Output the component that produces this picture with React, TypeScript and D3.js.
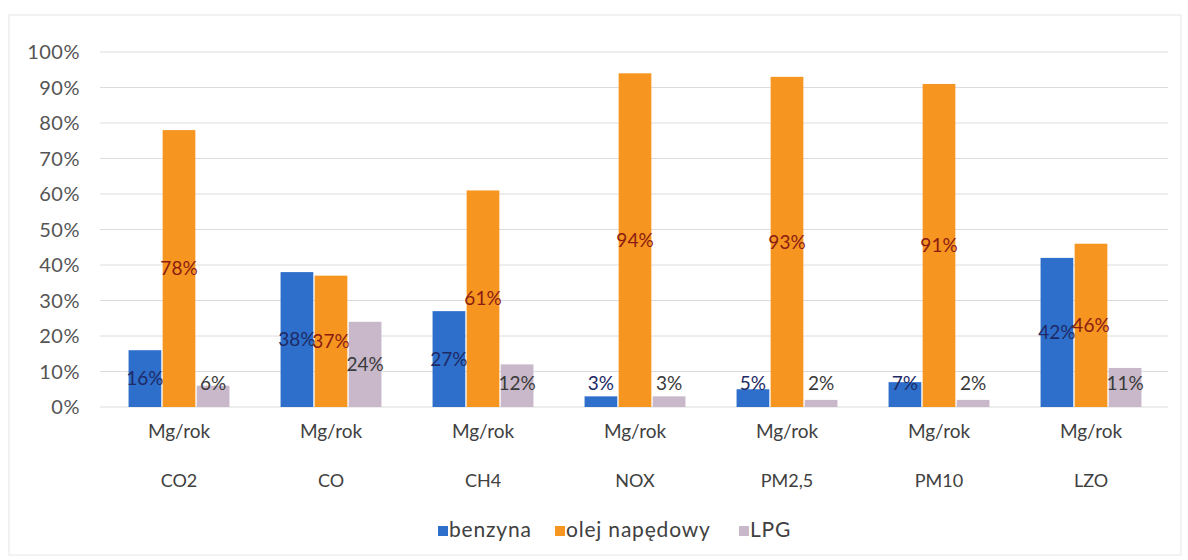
import React from "react";
import * as d3 from "d3";

const categories = ["CO2", "CO", "CH4", "NOX", "PM2,5", "PM10", "LZO"];
const unitLabel = "Mg/rok";
const seriesNames = ["benzyna", "olej napędowy", "LPG"];
const benzyna = [16, 38, 27, 3, 5, 7, 42];
const olej = [78, 37, 61, 94, 93, 91, 46];
const lpg = [6, 24, 12, 3, 2, 2, 11];
const yTicks = [0, 10, 20, 30, 40, 50, 60, 70, 80, 90, 100];

const colors = ["#2d6fcb", "#f6951f", "#c8b8c9"];
const labelColors = ["#1e2a66", "#8a1c14", "#3a3a3a"];

const W = 1188;
const H = 560;
const FONT = "Lato, 'Open Sans', sans-serif";

export default function App() {
  const series = [benzyna, olej, lpg];
  const x0 = d3.scaleBand<string>().domain(categories).range([103, 1167]).paddingInner(0).paddingOuter(0);
  const x1 = d3.scaleBand<number>().domain([0, 1, 2]).range([0, x0.bandwidth()]).paddingOuter(0.75).paddingInner(0.04);
  const y = d3.scaleLinear().domain([0, 100]).range([407, 52]);

  return (
    <svg width={W} height={H} style={{ position: "absolute", left: 0, top: 0, background: "#fff" }} fontFamily={FONT}>
      <rect x={9} y={15} width={1172} height={540} fill="none" stroke="#e6e6e6" />
      {yTicks.map((t) => (
        <g key={t}>
          <line x1={100} x2={1168} y1={y(t)} y2={y(t)} stroke="#dcdcdc" strokeWidth={1} />
          <text x={80} y={y(t)} dy="0.35em" textAnchor="end" fontSize={20} letterSpacing={0.5} fill="#555">
            {t}%
          </text>
        </g>
      ))}
      {categories.map((c, i) => (
        <g key={c} transform={`translate(${x0(c)},0)`}>
          {series.map((s, k) => {
            const bx = x1(k)!;
            const bw = x1.bandwidth();
            const top = y(s[i]);
            const base = y(0);
            const cy = Math.min((top + base) / 2, base - 24);
            return (
              <g key={k}>
                <rect x={bx} y={top} width={bw} height={base - top} fill={colors[k]} />
                <text x={bx + bw / 2} y={cy} dy="0.35em" textAnchor="middle" fontSize={19} fill={labelColors[k]}>
                  {s[i]}%
                </text>
              </g>
            );
          })}
          <text x={x0.bandwidth() / 2} y={431} dy="0.35em" textAnchor="middle" fontSize={19} fill="#404040">
            {unitLabel}
          </text>
          <text x={x0.bandwidth() / 2} y={481} dy="0.35em" textAnchor="middle" fontSize={18} fill="#404040">
            {c}
          </text>
        </g>
      ))}
      {seriesNames.map((n, k) => {
        const offsets = [438, 555, 739];
        const lx = offsets[k];
        return (
          <g key={n}>
            <rect x={lx} y={526} width={10} height={10} fill={colors[k]} />
            <text x={lx + 11} y={530} dy="0.35em" fontSize={21} letterSpacing={0.8} fill="#404040">
              {n}
            </text>
          </g>
        );
      })}
    </svg>
  );
}
